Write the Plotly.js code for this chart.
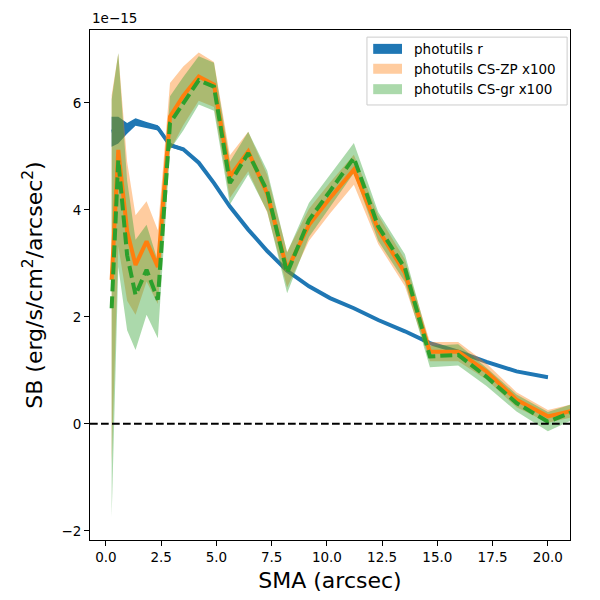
<!DOCTYPE html>
<html>
<head>
<meta charset="utf-8">
<script src="https://cdn.plot.ly/plotly-3.0.1.min.js"></script>
<style>
  html, body { margin: 0; padding: 0; background: #fff; }
  #chart { width: 600px; height: 600px; }
</style>
</head>
<body>
<div id="chart"></div>
<script>
// Surface brightness profiles (units of 1e-15 erg/s/cm^2/arcsec^2)
const SMA = [0.26, 0.56, 0.96, 1.34, 1.84, 2.35, 2.9, 3.5, 4.2, 4.89, 5.61, 6.44, 7.3,
  8.2, 9.19, 10.14, 11.22, 12.32, 13.53, 14.66, 15.94, 17.22, 18.58, 20.0, 21.45];

const SB_R = [5.46, 5.49, 5.52, 5.64, 5.58, 5.53, 5.21, 5.13, 4.88, 4.5, 4.06, 3.63, 3.23,
  2.86, 2.57, 2.35, 2.16, 1.94, 1.73, 1.51, 1.35, 1.16, 0.98, 0.87];
const SB_R_ERR = [0.28, 0.25, 0.1, 0.07, 0.06, 0.05, 0.04, 0.03, 0.03, 0.02, 0.02, 0.02, 0.02,
  0.02, 0.02, 0.02, 0.02, 0.02, 0.02, 0.02, 0.02, 0.02, 0.02, 0.02];

const SB_ZP = [2.69, 5.12, 3.6, 2.97, 3.41, 2.93, 5.74, 6.13, 6.49, 6.34, 4.62, 5.09, 4.3,
  2.88, 3.72, 4.22, 4.75, 3.63, 2.82, 1.35, 1.35, 0.98, 0.45, 0.14, 0.28];
const SB_ZP_ERR = [3.45, 1.8, 1.3, 0.93, 0.75, 0.69, 0.63, 0.55, 0.45, 0.42, 0.4, 0.37, 0.35,
  0.33, 0.3, 0.29, 0.28, 0.27, 0.25, 0.18, 0.18, 0.15, 0.14, 0.12, 0.12];

const SB_GR = [2.16, 4.93, 3.15, 2.41, 2.88, 2.32, 5.62, 5.98, 6.42, 6.3, 4.5, 5.06, 4.35,
  2.82, 3.81, 4.35, 4.97, 3.69, 2.91, 1.26, 1.29, 0.88, 0.39, 0.04, 0.28];
const SB_GR_ERR = [3.9, 2.0, 1.4, 1.03, 0.84, 0.72, 0.5, 0.5, 0.45, 0.45, 0.4, 0.4, 0.38,
  0.38, 0.32, 0.3, 0.28, 0.27, 0.26, 0.2, 0.2, 0.17, 0.16, 0.18, 0.14];

const LABELS = ["photutils r", "photutils CS-ZP x100", "photutils CS-gr x100"];
const X_TICKS = [0, 2.5, 5, 7.5, 10, 12.5, 15, 17.5, 20];
const Y_TICKS = [-2, 0, 2, 4, 6];
const ZERO_LEVEL = 0;

const BLUE = "#1f77b4";
const ORANGE = "#ff7f0e";
const GREEN = "#2ca02c";
const FONT = "DejaVu Sans";

// closed polygon for a +/- err band (fill_between)
function band(x, y, err, fillcolor, name) {
  const xs = x.slice(0, y.length);
  const upper = y.map((v, i) => v + err[i]);
  const lower = y.map((v, i) => v - err[i]);
  return {
    x: xs.concat(xs.slice().reverse()),
    y: upper.concat(lower.reverse()),
    type: "scatter",
    mode: "lines",
    fill: "toself",
    fillcolor,
    line: { width: 0 },
    name,
    hoverinfo: "skip",
    showlegend: false,
  };
}

function line(x, y, color, dash) {
  return {
    x: x.slice(0, y.length),
    y,
    type: "scatter",
    mode: "lines",
    line: { color, width: 4, dash: dash || "solid" },
    showlegend: false,
  };
}

const traces = [
  band(SMA, SB_R, SB_R_ERR, BLUE, LABELS[0]),
  line(SMA, SB_R, BLUE),
  band(SMA, SB_ZP, SB_ZP_ERR, "rgba(255,127,14,0.4)", LABELS[1]),
  band(SMA, SB_GR, SB_GR_ERR, "rgba(44,160,44,0.4)", LABELS[2]),
  line(SMA, SB_ZP, ORANGE),
  line(SMA, SB_GR, GREEN, "12px,5px"),
];

// legend drawn by hand so the patches look like matplotlib ones
const legendRows = [0.963, 0.924, 0.884];
const legendFills = [BLUE, "rgba(255,127,14,0.4)", "rgba(44,160,44,0.4)"];
const legendShapes = [{
  type: "rect", xref: "paper", yref: "paper",
  x0: 0.577, x1: 0.994, y0: 0.853, y1: 0.986,
  line: { color: "#cccccc", width: 1 }, fillcolor: "rgba(255,255,255,0.8)",
}];
const legendText = [];
LABELS.forEach((label, i) => {
  legendShapes.push({
    type: "rect", xref: "paper", yref: "paper",
    x0: 0.590, x1: 0.650, y0: legendRows[i] - 0.0098, y1: legendRows[i] + 0.0098,
    line: { width: 0 }, fillcolor: legendFills[i],
  });
  legendText.push({
    xref: "paper", yref: "paper", x: 0.671, y: legendRows[i],
    xanchor: "left", yanchor: "middle", showarrow: false,
    text: label, font: { family: FONT, size: 13.5, color: "#000" },
  });
});

const axisStyle = {
  showgrid: false,
  zeroline: false,
  showline: true,
  mirror: true,
  linecolor: "#000",
  linewidth: 1,
  ticks: "outside",
  ticklen: 5,
  tickwidth: 1,
  tickcolor: "#000",
  tickfont: { family: FONT, size: 13.5, color: "#000" },
};

const layout = {
  width: 600,
  height: 600,
  paper_bgcolor: "#fff",
  plot_bgcolor: "#fff",
  margin: { l: 90, r: 30, t: 30, b: 60 },
  showlegend: false,
  xaxis: {
    ...axisStyle,
    range: [-0.72, 21.0],
    tickvals: X_TICKS,
    tickformat: ".1f",
    title: { text: "SMA (arcsec)", font: { family: FONT, size: 22, color: "#000" }, standoff: 8 },
  },
  yaxis: {
    ...axisStyle,
    range: [-2.17, 7.36],
    tickvals: Y_TICKS,
    title: {
      text: "SB (erg/s/cm<sup>2</sup>/arcsec<sup>2</sup>)",
      font: { family: FONT, size: 22, color: "#000" },
      standoff: 12,
    },
  },
  shapes: [
    {
      type: "line", xref: "paper", yref: "y",
      x0: 0, x1: 1, y0: ZERO_LEVEL, y1: ZERO_LEVEL,
      line: { color: "#000", width: 2, dash: "7.7px,3.3px" },
    },
    ...legendShapes,
  ],
  annotations: [
    {
      xref: "paper", yref: "paper", x: 0, y: 1,
      xanchor: "left", yanchor: "bottom", yshift: 2, showarrow: false,
      text: "1e\u221215", font: { family: FONT, size: 13.5, color: "#000" },
    },
    ...legendText,
  ],
};

Plotly.newPlot("chart", traces, layout, { displayModeBar: false, staticPlot: true });
</script>
</body>
</html>
